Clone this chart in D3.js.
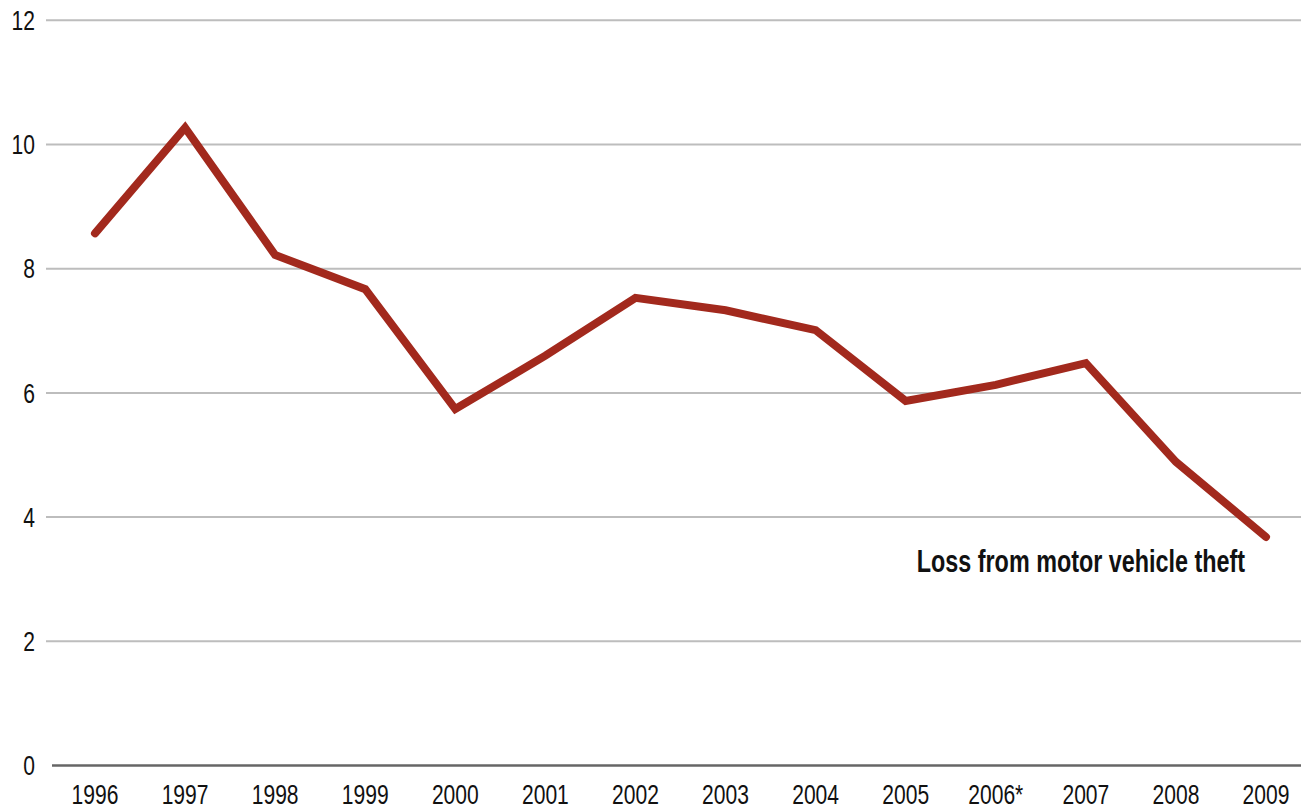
<!DOCTYPE html>
<html>
<head>
<meta charset="utf-8">
<script src="https://cdn.jsdelivr.net/npm/d3@7"></script>
<style>
  body { margin: 0; background: #fff; }
  svg { display: block; }
  text { font-family: "Liberation Sans", Arial, sans-serif; fill: #111; }
</style>
</head>
<body>
<svg width="1301" height="809"></svg>
<script>
// Chart data
const years = ["1996", "1997", "1998", "1999", "2000", "2001", "2002",
               "2003", "2004", "2005", "2006*", "2007", "2008", "2009"];
const loss = [8.57, 10.27, 8.22, 7.67, 5.74, 6.6, 7.53,
              7.33, 7.01, 5.87, 6.13, 6.48, 4.89, 3.68];
const yTicks = [0, 2, 4, 6, 8, 10, 12];
const seriesLabel = "Loss from motor vehicle theft";

const svg = d3.select("svg");
const width = +svg.attr("width");

// condensed look: squeeze the glyphs horizontally
const squeeze = 0.78;

// Scales
const x = d3.scalePoint()
    .domain(years)
    .range([95, 1266]);

const y = d3.scaleLinear()
    .domain([0, 12])
    .range([765.5, 20.3]);

// Gridlines (0 is drawn as the darker axis line)
svg.append("g")
    .selectAll("line")
    .data(yTicks.filter(d => d !== 0))
    .enter()
    .append("line")
    .attr("x1", 46)
    .attr("x2", width)
    .attr("y1", d => y(d))
    .attr("y2", d => y(d))
    .attr("stroke", "#bdbdbd")
    .attr("stroke-width", 2);

svg.append("line")
    .attr("x1", 52)
    .attr("x2", width)
    .attr("y1", y(0))
    .attr("y2", y(0))
    .attr("stroke", "#666")
    .attr("stroke-width", 2.5);

// Y tick labels
svg.append("g")
    .selectAll("text")
    .data(yTicks)
    .enter()
    .append("text")
    .attr("transform", d => `translate(35,${y(d)}) scale(${squeeze},1)`)
    .attr("dy", "0.36em")
    .attr("text-anchor", "end")
    .attr("font-size", "27px")
    .text(d => d);

// X tick labels
svg.append("g")
    .selectAll("text")
    .data(years)
    .enter()
    .append("text")
    .attr("transform", d => `translate(${x(d)},804) scale(${squeeze},1)`)
    .attr("text-anchor", "middle")
    .attr("font-size", "27px")
    .text(d => d);

// The line
const line = d3.line()
    .x((d, i) => x(years[i]))
    .y(d => y(d));

svg.append("path")
    .datum(loss)
    .attr("d", line)
    .attr("fill", "none")
    .attr("stroke", "#a2291d")
    .attr("stroke-width", 8)
    .attr("stroke-linejoin", "miter")
    .attr("stroke-linecap", "round");

// Series label
svg.append("text")
    .attr("transform", `translate(1245,572) scale(0.73,1)`)
    .attr("text-anchor", "end")
    .attr("font-size", "32px")
    .attr("font-weight", "bold")
    .text(seriesLabel);
</script>
</body>
</html>
